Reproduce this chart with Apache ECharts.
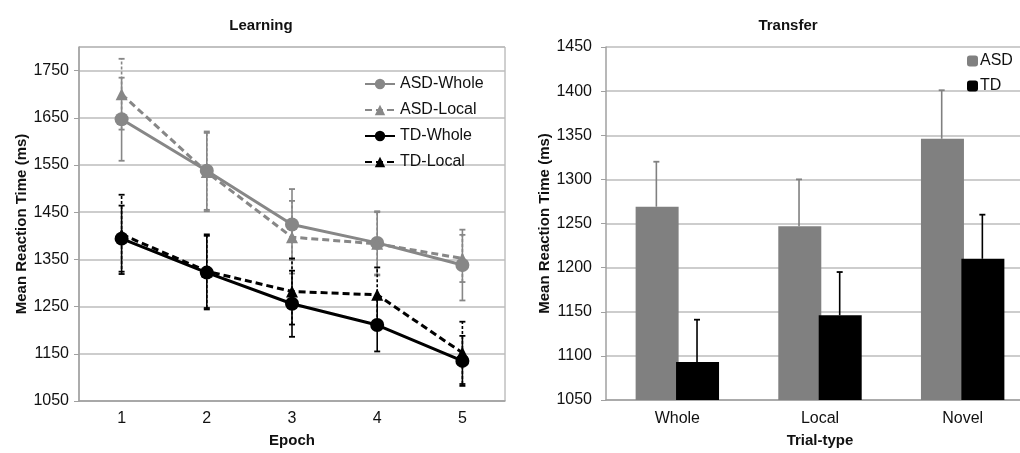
<!DOCTYPE html>
<html>
<head>
<meta charset="utf-8">
<script src="https://cdn.jsdelivr.net/npm/echarts@6/dist/echarts.min.js"></script>
<style>
  html, body { margin: 0; padding: 0; background: #fff; overflow: hidden; }
  /* the original figure is cut off at the right, so the canvas runs a bit past the window */
  #chart { width: 1040px; height: 453px; }
</style>
</head>
<body>
<div id="chart"></div>
<script>
// learning panel
var epochs = ['1', '2', '3', '4', '5'];
var asdWhole = [1647, 1538, 1424, 1385, 1338];
var asdLocal = [1700, 1535, 1397, 1383, 1352];
var tdWhole = [1394, 1322, 1256, 1211, 1135];
var tdLocal = [1403, 1325, 1282, 1275, 1152];
var asdWholeErr = [88, 83, 75, 67, 75];
var asdLocalErr = [75, 83, 77, 67, 50];
var tdWholeErr = [70, 78, 70, 56, 53];
var tdLocalErr = [84, 78, 70, 58, 66];

// transfer panel
var trialTypes = ['Whole', 'Local', 'Novel'];
var asdTransfer = [1269, 1247, 1346];
var tdTransfer = [1093, 1146, 1210];
var asdTransferErr = [51, 53, 55];
var tdTransferErr = [48, 49, 50];

var FONT = '"Liberation Sans", Arial, sans-serif';
var GREY = '#878787';
var GRID_LINE = '#bdbdbd';
var AXIS_LINE = '#a0a0a0';

// build [index, low, high] rows for the error bars
function errRows(vals, errs, upOnly) {
    return vals.map(function (v, i) {
        return [i, upOnly ? v : v - errs[i], v + errs[i]];
    });
}

// vertical whisker with caps, shifted sideways by a fraction of the band
function whisker(color, dashed, shift, capBottom) {
    return function (params, api) {
        var i = api.value(0);
        var lo = api.coord([i, api.value(1)]);
        var hi = api.coord([i, api.value(2)]);
        var band = api.size([1, 0])[0];
        var x = lo[0] + band * shift;
        var style = { stroke: color, lineWidth: 1.6, lineDash: dashed ? [3, 2] : null };
        var kids = [
            { type: 'line', shape: { x1: x, y1: lo[1], x2: x, y2: hi[1] }, style: style },
            { type: 'line', shape: { x1: x - 3, y1: hi[1], x2: x + 3, y2: hi[1] }, style: { stroke: color, lineWidth: 1.8 } }
        ];
        if (capBottom) {
            kids.push({ type: 'line', shape: { x1: x - 3, y1: lo[1], x2: x + 3, y2: lo[1] }, style: { stroke: color, lineWidth: 1.8 } });
        }
        return { type: 'group', children: kids };
    };
}

function lineSeries(name, data, color, dashed, symbol, size) {
    return {
        name: name, type: 'line', data: data,
        xAxisIndex: 0, yAxisIndex: 0, z: 3,
        symbol: symbol, symbolSize: size,
        lineStyle: { color: color, width: 3, type: dashed ? [7, 4] : 'solid' },
        itemStyle: { color: color }
    };
}

function errSeries(rows, color, dashed, axis, shift, capBottom) {
    return {
        type: 'custom', data: rows, z: 2,
        xAxisIndex: axis, yAxisIndex: axis,
        renderItem: whisker(color, dashed, shift, capBottom),
        silent: true
    };
}

var chart = echarts.init(document.getElementById('chart'));

var plain = function (v) { return String(v); };
var axisText = { color: '#111', fontSize: 16, fontFamily: FONT };
var nameText = { color: '#111', fontSize: 15, fontWeight: 'bold', fontFamily: FONT };

chart.setOption({
    animation: false,
    title: [
        { text: 'Learning', left: 256, top: 13, textAlign: 'center',
          textStyle: { fontSize: 15, fontWeight: 'bold', color: '#111', fontFamily: FONT } },
        { text: 'Transfer', left: 783, top: 13, textAlign: 'center',
          textStyle: { fontSize: 15, fontWeight: 'bold', color: '#111', fontFamily: FONT } }
    ],
    legend: [
        {
            data: ['ASD-Whole', 'ASD-Local', 'TD-Whole', 'TD-Local'],
            orient: 'vertical', left: 359, top: 71,
            itemWidth: 30, itemHeight: 13, itemGap: 10,
            textStyle: { color: '#111', fontSize: 16, fontFamily: FONT }
        },
        {
            data: ['ASD', 'TD'],
            orient: 'vertical', left: 962, top: 48,
            itemWidth: 11, itemHeight: 11, itemGap: 9, icon: 'roundRect',
            textStyle: { color: '#111', fontSize: 16, fontFamily: FONT, padding: [0, 0, 0, -3] }
        }
    ],
    grid: [
        { left: 79, top: 47, width: 426, bottom: 50, show: true, borderColor: AXIS_LINE, borderWidth: 1 },
        { left: 606, top: 47, width: 428, bottom: 50 }
    ],
    xAxis: [
        {
            gridIndex: 0, type: 'category', data: epochs,
            name: 'Epoch', nameLocation: 'middle', nameGap: 32, nameTextStyle: nameText,
            axisLine: { lineStyle: { color: AXIS_LINE, width: 1.5 } },
            axisTick: { inside: true, alignWithLabel: true, length: 3, lineStyle: { color: AXIS_LINE } },
            axisLabel: Object.assign({ margin: 10 }, axisText)
        },
        {
            gridIndex: 1, type: 'category', data: trialTypes,
            name: 'Trial-type', nameLocation: 'middle', nameGap: 33, nameTextStyle: nameText,
            axisLine: { lineStyle: { color: AXIS_LINE, width: 1.5 } },
            axisTick: { length: 5, lineStyle: { color: AXIS_LINE } },
            axisLabel: Object.assign({ margin: 11 }, axisText)
        }
    ],
    yAxis: [
        {
            gridIndex: 0, type: 'value', min: 1050, max: 1800, interval: 100,
            name: 'Mean Reaction Time (ms)', nameLocation: 'middle', nameGap: 49, nameTextStyle: nameText,
            axisLine: { show: true, lineStyle: { color: AXIS_LINE, width: 1.5 } },
            axisTick: { show: true, length: 5, lineStyle: { color: AXIS_LINE } },
            axisLabel: Object.assign({ margin: 10, showMaxLabel: false, formatter: plain }, axisText),
            splitLine: { lineStyle: { color: GRID_LINE, width: 1.5 } }
        },
        {
            gridIndex: 1, type: 'value', min: 1050, max: 1450, interval: 50,
            name: 'Mean Reaction Time (ms)', nameLocation: 'middle', nameGap: 54, nameTextStyle: nameText,
            axisLine: { show: true, lineStyle: { color: AXIS_LINE, width: 1.5 } },
            axisTick: { show: true, length: 5, lineStyle: { color: AXIS_LINE } },
            axisLabel: Object.assign({ margin: 14, formatter: plain }, axisText),
            splitLine: { lineStyle: { color: GRID_LINE, width: 1.5 } }
        }
    ],
    series: [
        errSeries(errRows(asdWhole, asdWholeErr), GREY, false, 0, 0, true),
        errSeries(errRows(asdLocal, asdLocalErr), GREY, true, 0, 0, true),
        errSeries(errRows(tdWhole, tdWholeErr), '#000', false, 0, 0, true),
        errSeries(errRows(tdLocal, tdLocalErr), '#000', true, 0, 0, true),
        lineSeries('ASD-Whole', asdWhole, GREY, false, 'circle', 14),
        lineSeries('ASD-Local', asdLocal, GREY, true, 'triangle', 12),
        lineSeries('TD-Whole', tdWhole, '#000', false, 'circle', 14),
        lineSeries('TD-Local', tdLocal, '#000', true, 'triangle', 12),
        {
            name: 'ASD', type: 'bar', data: asdTransfer, xAxisIndex: 1, yAxisIndex: 1,
            barWidth: 43, barGap: '-6%', z: 2,
            itemStyle: { color: '#808080' }
        },
        {
            name: 'TD', type: 'bar', data: tdTransfer, xAxisIndex: 1, yAxisIndex: 1,
            barWidth: 43, barGap: '-6%', z: 2,
            itemStyle: { color: '#000' }
        },
        errSeries(errRows(asdTransfer, asdTransferErr, true), '#808080', false, 1, -0.147, false),
        errSeries(errRows(tdTransfer, tdTransferErr, true), '#000', false, 1, 0.138, false)
    ]
});
</script>
</body>
</html>
